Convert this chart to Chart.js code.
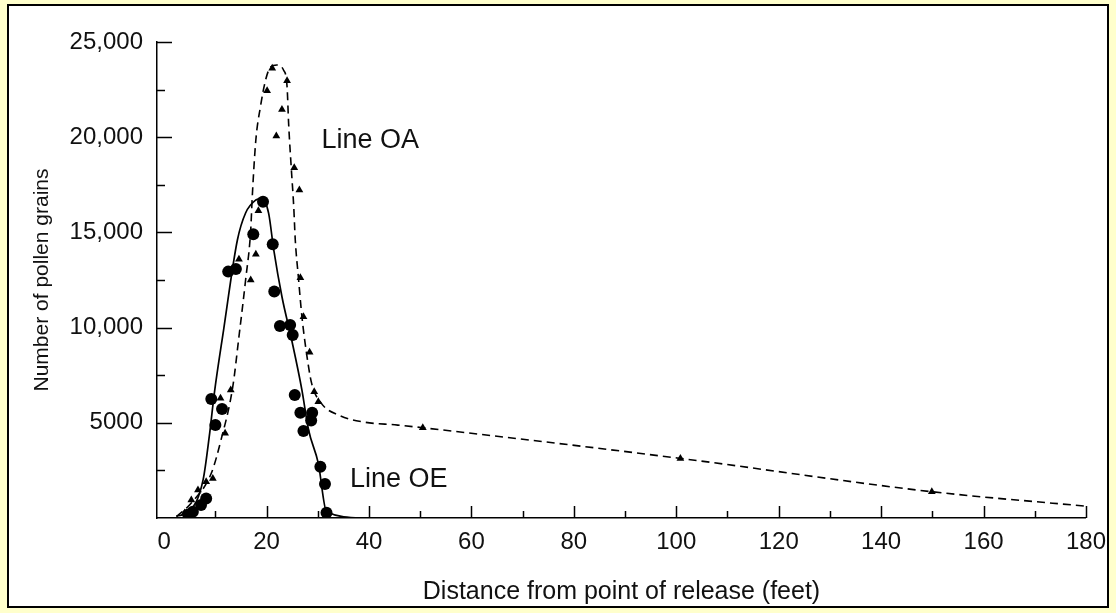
<!DOCTYPE html>
<html>
<head>
<meta charset="utf-8">
<script src="https://cdn.jsdelivr.net/npm/chart.js@4.4.1/dist/chart.umd.min.js"></script>
<style>
  html, body { margin: 0; padding: 0; background: #ffffcc; }
</style>
</head>
<body>
<canvas id="chart" width="1116" height="613"></canvas>
<script>
// axis ticks
const xTickValues = [0, 20, 40, 60, 80, 100, 120, 140, 160, 180];
const yTickValues = [0, 5000, 10000, 15000, 20000, 25000];

// Line OA (dashed curve + triangles)
const oaCurveX = [2.4, 5.3, 9.2, 11.1, 13.4, 14.6, 15.9, 16.9, 17.2, 17.9, 18.8, 19.8, 20.8, 22.0, 23.3, 24.0, 24.3, 24.8, 25.3, 25.6, 26.2, 26.9, 27.8, 28.8, 30.7, 34.0, 38.5, 45.6, 50.5, 100.8, 149.9, 180];
const oaCurveY = [70, 790, 2350, 4100, 6900, 9520, 12500, 15130, 16870, 19850, 21600, 23000, 23700, 23790, 23530, 22650, 20730, 18450, 16350, 14600, 12670, 10570, 8650, 7070, 6020, 5410, 5060, 4880, 4740, 3130, 1380, 620];
const oaPointX = [4.0, 5.3, 6.6, 8.2, 9.5, 11.0, 11.9, 13.0, 14.6, 16.9, 17.9, 18.4, 20.1, 21.1, 21.9, 23.0, 24.0, 25.4, 26.4, 26.6, 27.2, 28.4, 29.3, 30.1, 50.5, 100.8, 149.9];
const oaPointY = [260, 950, 1470, 1910, 2080, 6290, 4450, 6720, 13590, 12500, 13850, 16140, 22440, 23620, 20060, 21460, 22970, 18400, 17230, 12620, 10570, 8700, 6630, 6110, 4740, 3130, 1380];

// Line OE (solid curve + circles)
const oeCurveX = [2.4, 5.0, 7.6, 8.8, 9.8, 11.6, 14.3, 15.9, 17.9, 19.1, 20.4, 21.4, 23.0, 24.9, 26.9, 28.2, 30.1, 31.7, 39.1];
const oeCurveY = [100, 370, 2000, 4270, 6560, 9870, 14600, 16020, 16700, 16790, 16000, 14080, 11620, 9350, 6720, 4620, 2870, 330, 0];
const oePointX = [4.7, 5.6, 7.2, 8.2, 9.2, 10.0, 11.3, 12.5, 14.0, 17.4, 19.3, 21.2, 21.5, 22.6, 24.6, 25.1, 25.5, 26.6, 27.2, 28.7, 28.9, 30.5, 31.4, 31.7];
const oePointY = [190, 330, 680, 1030, 6250, 4880, 5720, 12940, 13080, 14900, 16610, 14380, 11890, 10080, 10140, 9610, 6460, 5530, 4570, 5120, 5530, 2690, 1790, 280];

// text labels on the plot
const lineLabels = ["Line OA", "Line OE"];
const lineLabelX = [30.7, 36.3];
const lineLabelY = [19850, 2000];

const FONT = "'Liberation Sans', Arial, sans-serif";
const toXY = (xs, ys) => xs.map((x, i) => ({ x: x, y: ys[i] }));

const framePlugin = {
  id: "frame",
  beforeDraw(chart) {
    const c = chart.ctx;
    c.save();
    c.fillStyle = "#ffffcc";
    c.fillRect(0, 0, chart.width, chart.height);
    c.fillStyle = "#ffffff";
    c.fillRect(8, 5, 1100, 602);
    c.strokeStyle = "#000";
    c.lineWidth = 2;
    c.strokeRect(8, 5, 1100, 602);
    c.restore();
  },
};

// tick marks point inward, minor ticks between the labelled ones
const innerTicks = {
  id: "innerTicks",
  afterDraw(chart) {
    const c = chart.ctx;
    const xs = chart.scales.x, ys = chart.scales.y;
    const area = chart.chartArea;
    c.save();
    c.strokeStyle = "#000";
    c.lineWidth = 1.5;
    c.beginPath();
    for (let v = 10; v <= 180; v += 10) {
      const px = Math.round(xs.getPixelForValue(v)) + 0.5;
      const len = v % 20 === 0 ? 12 : 7;
      c.moveTo(px, area.bottom);
      c.lineTo(px, area.bottom - len);
    }
    for (let v = 2500; v <= 25000; v += 2500) {
      const py = Math.round(ys.getPixelForValue(v)) + 0.5;
      const len = v % 5000 === 0 ? 15 : 8;
      c.moveTo(area.left, py);
      c.lineTo(area.left + len, py);
    }
    c.stroke();

    c.fillStyle = "#111";
    c.font = "27px " + FONT;
    c.textBaseline = "middle";
    c.textAlign = "left";
    lineLabels.forEach((t, i) => {
      c.fillText(t, xs.getPixelForValue(lineLabelX[i]), ys.getPixelForValue(lineLabelY[i]));
    });
    c.restore();
  },
};

new Chart(document.getElementById("chart"), {
  type: "scatter",
  data: {
    datasets: [
      {
        label: "OE points",
        data: toXY(oePointX, oePointY),
        pointStyle: "circle",
        pointRadius: 6,
        backgroundColor: "#000",
        borderColor: "#000",
        borderWidth: 0,
        order: 1,
      },
      {
        label: "OA points",
        data: toXY(oaPointX, oaPointY),
        pointStyle: "triangle",
        pointRadius: 4.5,
        backgroundColor: "#000",
        borderColor: "#000",
        borderWidth: 0,
        order: 1,
      },
      {
        label: "Line OE",
        data: toXY(oeCurveX, oeCurveY),
        showLine: true,
        pointRadius: 0,
        borderColor: "#000",
        borderWidth: 1.7,
        cubicInterpolationMode: "monotone",
        order: 2,
      },
      {
        label: "Line OA",
        data: toXY(oaCurveX, oaCurveY),
        showLine: true,
        pointRadius: 0,
        borderColor: "#000",
        borderWidth: 1.6,
        borderDash: [8, 5],
        cubicInterpolationMode: "monotone",
        order: 2,
      },
    ],
  },
  options: {
    responsive: false,
    animation: false,
    layout: { padding: { left: 10, top: 42, right: 20, bottom: 6 } },
    plugins: {
      legend: { display: false },
      tooltip: { enabled: false },
    },
    scales: {
      x: {
        type: "linear",
        min: -1.4,
        max: 180,
        afterBuildTicks: (s) => { s.ticks = xTickValues.map((v) => ({ value: v })); },
        afterFit: (s) => { s.height = 89; },
        grid: { display: false, drawTicks: false },
        border: { display: true, color: "#000", width: 1.5 },
        ticks: {
          autoSkip: false,
          maxRotation: 0,
          padding: 10,
          color: "#111",
          font: { family: FONT, size: 24 },
          callback: (v) => String(v),
        },
        title: {
          display: true,
          text: "Distance from point of release (feet)",
          color: "#111",
          font: { family: FONT, size: 25 },
          padding: { top: 0, bottom: 0 },
        },
      },
      y: {
        type: "linear",
        min: 0,
        max: 25000,
        afterBuildTicks: (s) => { s.ticks = yTickValues.map((v) => ({ value: v })); },
        afterFit: (s) => { s.width = 147; },
        grid: { display: false, drawTicks: false },
        border: { display: true, color: "#000", width: 1.5 },
        ticks: {
          padding: 14,
          color: "#111",
          font: { family: FONT, size: 24 },
          callback: (v) => (v === 0 ? "" : v < 10000 ? String(v) : v.toLocaleString("en-US")),
        },
        title: {
          display: true,
          text: "Number of pollen grains",
          color: "#111",
          font: { family: FONT, size: 21 },
          padding: { top: 20, bottom: 0 },
        },
      },
    },
  },
  plugins: [framePlugin, innerTicks],
});
</script>
</body>
</html>
